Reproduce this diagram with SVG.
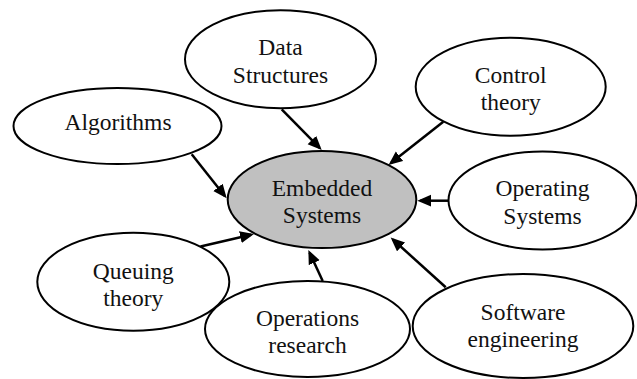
<svg xmlns="http://www.w3.org/2000/svg" width="637" height="379" viewBox="0 0 637 379">
  <style>
    .node ellipse { fill: #ffffff; stroke: #000000; stroke-width: 2; }
    #embedded ellipse { fill: #c0c0c0; }
    text { font-family: "Liberation Serif", "Times New Roman", serif; font-size: 23.5px; fill: #111111; text-anchor: middle; }
    #connectors line { stroke: #000000; stroke-width: 2.5; marker-end: url(#arrow); }
  </style>
  <defs>
    <!-- filled triangular arrowhead; tip sits 3px past the line end -->
    <marker id="arrow" markerUnits="userSpaceOnUse" markerWidth="15" markerHeight="13" refX="11" refY="6" orient="auto">
      <path d="M0,0 L14,6 L0,12 z" fill="#000000"/>
    </marker>
  </defs>

  <rect width="637" height="379" fill="#ffffff"/>

  <g id="data-structures" class="node">
    <ellipse cx="280.5" cy="59.2" rx="95.5" ry="49"/>
    <text x="280.5" y="55">Data</text>
    <text x="280.5" y="82.8">Structures</text>
  </g>

  <g id="control-theory" class="node">
    <ellipse cx="510.7" cy="86.8" rx="95" ry="49"/>
    <text x="510.7" y="82.7">Control</text>
    <text x="510.7" y="110">theory</text>
  </g>

  <g id="algorithms" class="node">
    <ellipse cx="117.5" cy="126" rx="104" ry="38"/>
    <text x="118" y="130">Algorithms</text>
  </g>

  <g id="embedded" class="node">
    <ellipse cx="322" cy="199.5" rx="94.3" ry="48.5"/>
    <text x="322" y="196">Embedded</text>
    <text x="322" y="223">Systems</text>
  </g>

  <g id="operating-systems" class="node">
    <ellipse cx="542.5" cy="200.5" rx="94" ry="49"/>
    <text x="542.5" y="196">Operating</text>
    <text x="542.5" y="224">Systems</text>
  </g>

  <g id="queuing-theory" class="node">
    <ellipse cx="133.3" cy="281.8" rx="96" ry="49"/>
    <text x="133.3" y="279">Queuing</text>
    <text x="133.3" y="306">theory</text>
  </g>

  <g id="operations-research" class="node">
    <ellipse cx="307.5" cy="329" rx="102.5" ry="48"/>
    <text x="307.5" y="326">Operations</text>
    <text x="307.5" y="353">research</text>
  </g>

  <g id="software-engineering" class="node">
    <ellipse cx="523" cy="326" rx="110.3" ry="52"/>
    <text x="523" y="320">Software</text>
    <text x="523" y="346.7">engineering</text>
  </g>

  <g id="connectors">
    <line x1="281.7" y1="109.3" x2="319.6" y2="147.9"/>
    <line x1="443.3" y1="121.7" x2="390.9" y2="163.1"/>
    <line x1="191.7" y1="154.3" x2="224.8" y2="196"/>
    <line x1="448.3" y1="200.7" x2="420.3" y2="200.7"/>
    <line x1="200.5" y1="246.5" x2="251.1" y2="234.7"/>
    <line x1="322.7" y1="281" x2="309.6" y2="252.7"/>
    <line x1="445.7" y1="287.3" x2="392.9" y2="239.5"/>
  </g>
</svg>
